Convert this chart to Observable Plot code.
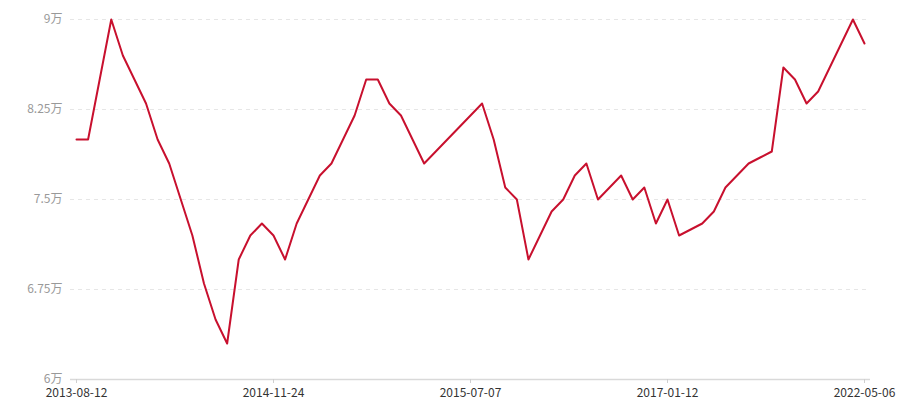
<!DOCTYPE html>
<html>
<head>
<meta charset="utf-8">
<script src="https://cdn.jsdelivr.net/npm/d3@7"></script>
<script src="https://cdn.jsdelivr.net/npm/@observablehq/plot@0.6"></script>
<style>
  html, body { margin: 0; padding: 0; background: #fff; }
  #chart svg { display: block; }
</style>
</head>
<body>
<div id="chart"></div>
<script>
const dates = [
  "2013-08-12","2013-09-10","2013-10-15","2013-11-12","2013-12-10","2014-01-14",
  "2014-02-18","2014-03-11","2014-04-15","2014-05-13","2014-06-10","2014-07-08",
  "2014-08-12","2014-09-09","2014-10-14","2014-10-28","2014-11-11","2014-11-24",
  "2014-12-08","2014-12-22","2015-01-05","2015-01-19","2015-02-02","2015-02-16",
  "2015-03-02","2015-03-16","2015-03-30","2015-04-13","2015-04-27","2015-05-11",
  "2015-05-25","2015-06-01","2015-06-09","2015-06-23","2015-07-07",
  "2015-08-10","2015-09-14","2015-10-12","2015-11-09","2015-12-14","2016-01-11",
  "2016-02-15","2016-03-14","2016-04-11","2016-05-09","2016-06-13","2016-07-11",
  "2016-08-08","2016-09-12","2016-10-10","2016-11-14","2017-01-12",
  "2017-05-08","2017-08-14","2017-11-13","2018-03-12","2018-06-11","2018-09-10",
  "2018-12-10","2019-03-11","2019-06-10","2019-09-09","2019-12-09","2020-03-09",
  "2020-06-08","2020-10-12","2021-02-08","2021-09-06","2022-05-06"
];
const prices = [
  80000, 80000, 85000, 90000, 87000, 85000,
  83000, 80000, 78000, 75000, 72000, 68000,
  65000, 63000, 70000, 72000, 73000, 72000,
  70000, 73000, 75000, 77000, 78000, 80000,
  82000, 85000, 85000, 83000, 82000, 80000,
  78000, 79000, 80000, 81000, 82000,
  83000, 80000, 76000, 75000, 70000, 72000,
  74000, 75000, 77000, 78000, 75000, 76000,
  77000, 75000, 76000, 73000, 75000,
  72000, 72500, 73000, 74000, 76000, 77000,
  78000, 78500, 79000, 86000, 85000, 83000,
  84000, 86000, 88000, 90000, 88000
];
const xTickLabels = ["2013-08-12","2014-11-24","2015-07-07","2017-01-12","2022-05-06"];
const yTicks = [60000, 67500, 75000, 82500, 90000];

const data = dates.map((d, i) => ({date: d, price: prices[i]}));
const font = "'Noto Sans CJK SC', 'Noto Sans', sans-serif";

const chart = Plot.plot({
  width: 900,
  height: 400,
  marginLeft: 70,
  marginRight: 30,
  marginTop: 19,
  marginBottom: 21,
  style: {fontFamily: font, fontSize: "12px", background: "#fff"},
  x: {type: "point", domain: dates, padding: 0, insetLeft: 6, insetRight: 6, label: null},
  y: {domain: [60000, 90000], label: null},
  marks: [
    Plot.gridY(yTicks.slice(1), {stroke: "#e6e6e6", strokeOpacity: 1, strokeDasharray: "4,4"}),
    Plot.ruleY([60000], {stroke: "#d9d9d9", strokeWidth: 1.5}),
    Plot.axisY(yTicks, {
      tickSize: 0, tickPadding: 8, fill: "#999", fontSize: 12, label: null,
      tickFormat: d => (d / 10000) + "万"
    }),
    Plot.axisX(xTickLabels, {
      tickSize: 4, stroke: "#cfcfcf", tickPadding: 5, fill: "#333", fontSize: 12, label: null
    }),
    Plot.line(data, {x: "date", y: "price", stroke: "#c8102e", strokeWidth: 2})
  ]
});
document.getElementById("chart").appendChild(chart);
</script>
</body>
</html>
